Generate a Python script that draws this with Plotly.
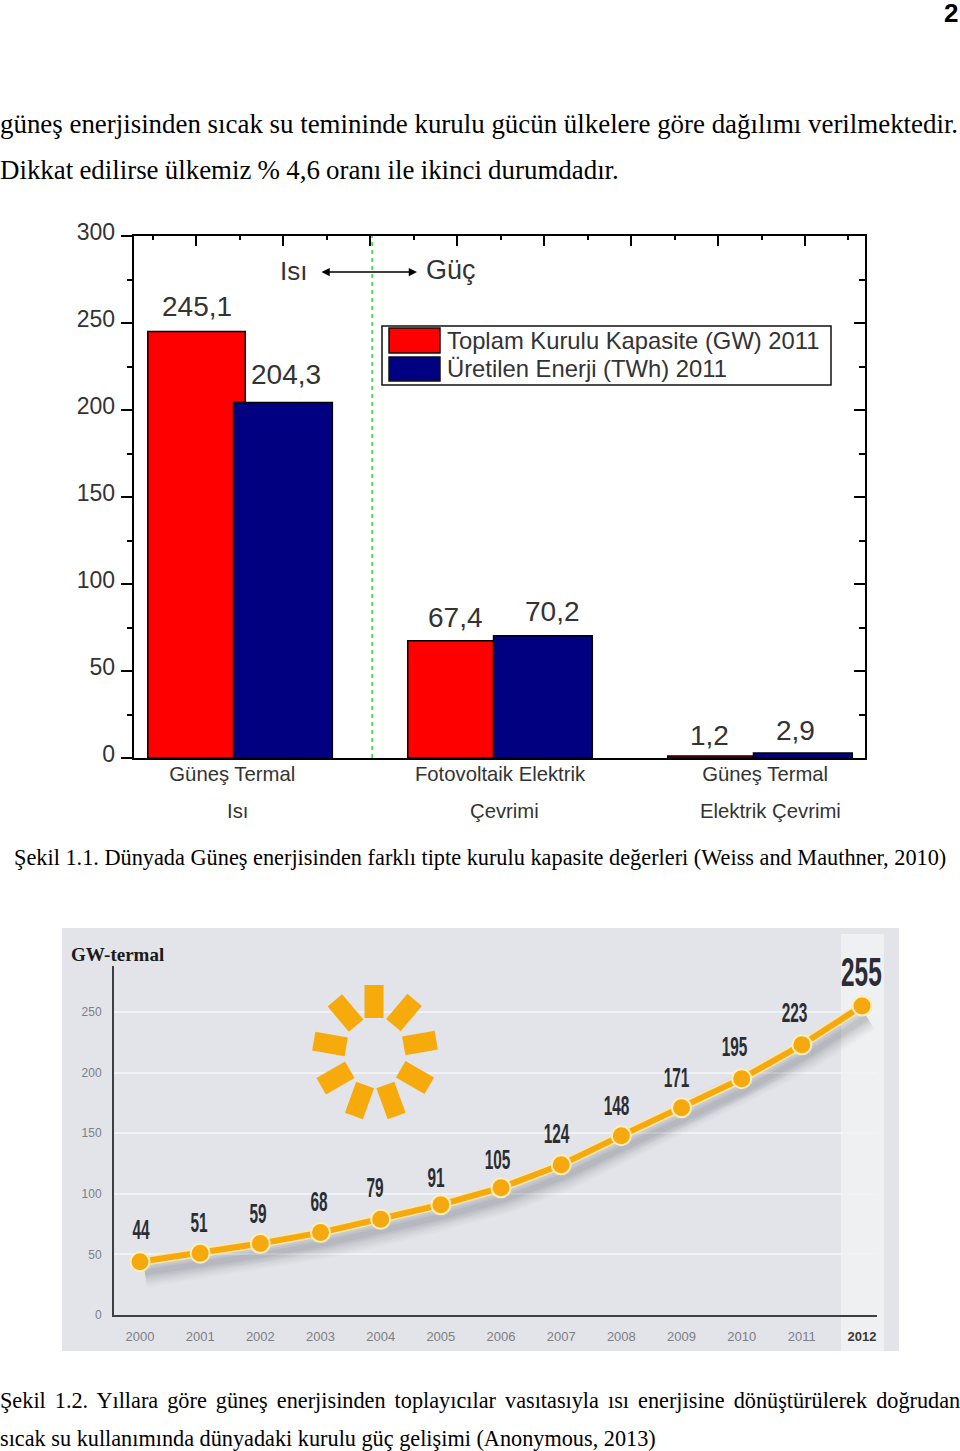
import numpy as np
import plotly.graph_objects as go

W, H = 960, 1451

# ---------- data ----------
GROUP_POS = [0, 1, 2]
GROUP_LINE1 = ["Güneş Termal", "Fotovoltaik Elektrik", "Güneş Termal"]
GROUP_LINE2 = ["Isı", "Çevrimi", "Elektrik Çevrimi"]
CAPACITY = [245.1, 67.4, 1.2]
ENERGY = [204.3, 70.2, 2.9]
CAPACITY_TEXT = ["245,1", "67,4", "1,2"]
ENERGY_TEXT = ["204,3", "70,2", "2,9"]
LEGEND_NAMES = ["Toplam Kurulu Kapasite (GW) 2011", "Üretilen Enerji (TWh) 2011"]

YEARS = list(range(2000, 2013))
GW_THERMAL = [44, 51, 59, 68, 79, 91, 105, 124, 148, 171, 195, 223, 255]

# ---------- label placement (pixels) ----------
CAP_SHIFT = [(-43, 25), (-45, 23), (-50, 20)]
ENE_SHIFT = [(46, 28), (52, 24), (36, 22)]
GW_SHIFT = [(1, 32), (-1, 30), (-2, 30), (-2, 31), (-6, 31), (-5, 27), (-4, 28),
            (-5, 31), (-5, 30), (-5, 30), (-7, 32), (-7, 32), (-1, 34)]

SERIF = "Liberation Serif"
SANS = "Liberation Sans"


def px(x):
    return x / W


def py(y):
    return 1 - y / H


def ptext(text, x, y, size, color="#000", family=SERIF, anchor="left"):
    return dict(text=text, x=px(x), y=py(y), xref="paper", yref="paper", showarrow=False,
                xshift=-2 if anchor == "left" else 0, align=anchor,
                xanchor=anchor, yanchor="middle", font=dict(family=family, size=size, color=color))


fig = go.Figure()
shapes, ann = [], []

# ---------- chart 1 ----------
fig.add_trace(go.Bar(x=GROUP_POS, y=CAPACITY, width=0.375, offset=-0.355, name=LEGEND_NAMES[0],
                     marker=dict(color="#ff0000", line=dict(color="#000", width=1.5))))
fig.add_trace(go.Bar(x=GROUP_POS, y=ENERGY, width=0.38, offset=-0.025, name=LEGEND_NAMES[1],
                     marker=dict(color="#000080", line=dict(color="#000", width=1.5))))
# empty traces keep the frame's tick-only axes alive
fig.add_trace(go.Scatter(x=[None], y=[None], xaxis="x3", yaxis="y3", showlegend=False))
fig.add_trace(go.Scatter(x=[None], y=[None], xaxis="x4", yaxis="y4", showlegend=False))

DARK = "#333333"
for g, t, (dx, dy), v in zip(GROUP_POS, CAPACITY_TEXT, CAP_SHIFT, CAPACITY):
    ann.append(dict(text=t, x=g, y=v, xref="x", yref="y", xshift=dx, yshift=dy, showarrow=False,
                    font=dict(family=SANS, size=28, color=DARK)))
for g, t, (dx, dy), v in zip(GROUP_POS, ENERGY_TEXT, ENE_SHIFT, ENERGY):
    ann.append(dict(text=t, x=g, y=v, xref="x", yref="y", xshift=dx, yshift=dy, showarrow=False,
                    font=dict(family=SANS, size=28, color=DARK)))

for t, x in zip(GROUP_LINE2, [237, 504, 770]):
    ann.append(ptext(t, x, 811, 20.3, DARK, SANS, "center"))

shapes.append(dict(type="line", xref="x", yref="y", x0=0.508, x1=0.508, y0=0, y1=300,
                   line=dict(color="#2fd24a", width=1.5, dash="4px,4px")))

ann.append(ptext("Isı", 293, 271, 26, DARK, SANS, "center"))
ann.append(ptext("Güç", 451, 270, 27, DARK, SANS, "center"))
ann.append(dict(x=px(417), y=py(272), xref="paper", yref="paper", ax=-97, ay=0, text="",
                showarrow=True, arrowhead=2, arrowside="end+start", arrowwidth=1.5,
                arrowsize=1.1, arrowcolor="#000", standoff=0, startstandoff=0))

# hand-drawn key, as in the source
shapes.append(dict(type="rect", xref="paper", yref="paper", x0=px(382), x1=px(831), y0=py(385), y1=py(326),
                   fillcolor="#fff", line=dict(color="#111", width=1.5), layer="above"))
shapes.append(dict(type="rect", xref="paper", yref="paper", x0=px(389), x1=px(440), y0=py(353), y1=py(328),
                   fillcolor="#ff0000", line=dict(color="#111", width=1.5), layer="above"))
shapes.append(dict(type="rect", xref="paper", yref="paper", x0=px(389), x1=px(440), y0=py(381), y1=py(357),
                   fillcolor="#000080", line=dict(color="#111", width=1.5), layer="above"))
ann.append(ptext(LEGEND_NAMES[0], 447, 341, 23.8, DARK, SANS))
ann.append(ptext(LEGEND_NAMES[1], 447, 368, 23.8, DARK, SANS))

# ---------- chart 2 ----------
PANEL = "#e2e4e9"
shapes.append(dict(type="rect", xref="paper", yref="paper", x0=px(62), x1=px(899), y0=py(1351), y1=py(928),
                   fillcolor=PANEL, line=dict(width=0), layer="below"))
shapes.append(dict(type="rect", xref="paper", yref="paper", x0=px(841), x1=px(884), y0=py(1351), y1=py(934),
                   fillcolor="#eff0f2", line=dict(width=0), layer="below"))

# sun: nine blocks, drawn over the gridlines
SUN_BLOCKS = [(374, 1001.5, 0), (404, 1012.5, 40), (420, 1043, 80), (415, 1077.5, 120), (391, 1100.5, 160),
              (359.5, 1100.5, 200), (335.5, 1078, 240), (330, 1044, 280), (345.5, 1013, 320)]
for cx, cy, deg in SUN_BLOCKS:
    a = np.radians(deg)
    ux, uy = np.sin(a), -np.cos(a)
    shapes.append(dict(type="line", xref="paper", yref="paper", layer="above",
                       x0=px(cx - 16.5 * ux), y0=py(cy - 16.5 * uy),
                       x1=px(cx + 16.5 * ux), y1=py(cy + 16.5 * uy),
                       line=dict(color="#f7aa0c", width=19)))

# soft shadow under the line
for w, alpha in [(30, 0.02), (26, 0.025), (22, 0.03), (18, 0.035), (14, 0.04), (10, 0.05), (6, 0.06)]:
    fig.add_trace(go.Scatter(x=[v + 0.08 for v in YEARS], y=[v - 9 for v in GW_THERMAL], mode="lines",
                             xaxis="x2", yaxis="y2", hoverinfo="skip", showlegend=False,
                             line=dict(color=f"rgba(50,50,70,{alpha})", width=w)))
fig.add_trace(go.Scatter(x=YEARS, y=GW_THERMAL, mode="lines", xaxis="x2", yaxis="y2", showlegend=False,
                         hoverinfo="skip", line=dict(color="#fbe6ab", width=9)))
fig.add_trace(go.Scatter(x=YEARS, y=GW_THERMAL, mode="lines+markers", xaxis="x2", yaxis="y2",
                         showlegend=False, line=dict(color="#f5a90f", width=6),
                         marker=dict(size=19, color="#f5a90f", line=dict(color="#fdeebd", width=2))))

for yr, v, (dx, dy) in zip(YEARS, GW_THERMAL, GW_SHIFT):
    big = yr == 2012
    ann.append(dict(text=f"<b>{v}</b>", x=yr, y=v, xref="x2", yref="y2", xshift=dx, yshift=dy,
                    showarrow=False, font=dict(family=SANS, size=40 if big else 27, color="#2b2d33")))

ann.append(ptext("<b>GW-termal</b>", 71, 954, 19, "#1a1a1a", SERIF))

year_text = [str(y) for y in YEARS[:-1]] + ["<span style='color:#3a3a3a'><b>2012</b></span>"]

# ---------- page text ----------
ann.append(ptext("<b>2</b>", 960, 13, 26, "#000", SANS, "right"))
ann.append(ptext("güneş enerjisinden sıcak su temininde kurulu gücün ülkelere göre dağılımı verilmektedir.", 0, 124, 26.9))
ann.append(ptext("Dikkat edilirse ülkemiz % 4,6 oranı ile ikinci durumdadır.", 0, 170, 26.9))
ann.append(ptext("Şekil 1.1. Dünyada Güneş enerjisinden farklı tipte kurulu kapasite değerleri (Weiss and Mauthner, 2010)", 14, 857, 22.3))
ann.append(ptext("Şekil 1.2. Yıllara göre güneş enerjisinden toplayıcılar vasıtasıyla ısı enerjisine dönüştürülerek doğrudan", 0, 1400, 22.25))
ann.append(ptext("sıcak su kullanımında dünyadaki kurulu güç gelişimi (Anonymous, 2013)", 0, 1438, 22.25))

X1 = [px(134), px(865)]
Y1 = [py(758), py(236)]
X2 = [px(114), px(877)]
Y2 = [py(1315), py(966)]
Y_RANGE = [0, 300]

fig.update_layout(
    width=W, height=H, margin=dict(l=0, r=0, t=0, b=0, autoexpand=False), autosize=False,
    paper_bgcolor="#fff", plot_bgcolor="rgba(0,0,0,0)", barmode="overlay", showlegend=False,
    shapes=shapes, annotations=ann,
    xaxis=dict(domain=X1, range=[-0.408, 2.404], anchor="y", tickmode="array",
               tickvals=[-0.03, 1.0, 2.02], ticktext=GROUP_LINE1, ticks="", showgrid=False, zeroline=False,
               showline=True, linecolor="#000", linewidth=2, mirror=True, ticklabelstandoff=-3,
               tickfont=dict(family=SANS, size=20.3, color=DARK)),
    yaxis=dict(domain=Y1, range=Y_RANGE, anchor="x", tickmode="linear", tick0=0, dtick=50,
               ticks="outside", ticklen=11, tickwidth=1.5, tickcolor="#000", showticklabels=False,
               showgrid=False, zeroline=False, showline=True, linecolor="#000", linewidth=2, mirror=True,
               minor=dict(ticks="outside", ticklen=5, tickwidth=1.5, tickcolor="#000", dtick=25, tick0=0, showgrid=False)),
    xaxis3=dict(domain=X1, range=[-0.408, 2.404], overlaying="x", side="top", anchor="y3", tickmode="linear",
                tick0=-0.169, dtick=0.3346, ticks="inside", ticklen=10, tickwidth=1.5, tickcolor="#000",
                showticklabels=False, showgrid=False, zeroline=False,
                minor=dict(ticks="inside", ticklen=4, tickwidth=1.5, tickcolor="#000", dtick=0.1673, tick0=-0.169, showgrid=False)),
    yaxis3=dict(domain=Y1, range=Y_RANGE, overlaying="y", side="right", anchor="x3", tickmode="linear", tick0=0, dtick=50,
                ticks="inside", ticklen=11, tickwidth=1.5, tickcolor="#000", showticklabels=False,
                showgrid=False, zeroline=False,
                minor=dict(ticks="inside", ticklen=6, tickwidth=1.5, tickcolor="#000", dtick=25, tick0=0, showgrid=False)),
    # label-only axis: the source's tick labels sit slightly above their ticks
    xaxis4=dict(domain=X1, range=[0, 1], anchor="y4", visible=False),
    yaxis4=dict(domain=[py(758), py(226)], range=[-2.3, 303.4], side="left", anchor="x4",
                tickmode="array", tickvals=[0, 50, 100, 150, 200, 250, 300], ticks="", showgrid=False, zeroline=False,
                showline=False, ticklabelstandoff=18, tickfont=dict(family=SANS, size=23, color=DARK)),
    xaxis2=dict(domain=X2, range=[1999.568, 2012.249], anchor="y2", tickmode="array", tickvals=YEARS, ticktext=year_text,
                ticks="", showgrid=False, zeroline=False, showline=True, linecolor="#3d3f44", linewidth=2,
                ticklabelstandoff=8, tickfont=dict(family=SANS, size=13, color="#7d7f84")),
    yaxis2=dict(domain=Y2, range=[0, 288], anchor="x2", tickmode="array", tickvals=[0, 50, 100, 150, 200, 250],
                ticks="", showgrid=True, gridcolor="#f1f2f5", gridwidth=2, zeroline=False, showline=True,
                linecolor="#3d3f44", linewidth=2, ticklabelstandoff=8,
                tickfont=dict(family=SANS, size=12, color="#7d7f84")),
)

# the source's value labels are a condensed face and one caption line is justified
POST = """
document.body.style.margin='0';
document.documentElement.style.overflow='hidden';
function fit(){
  document.querySelectorAll('.annotation-text').forEach(function(t){
    var s=t.textContent.trim();
    if(/^\\d+$/.test(s) && !t.getAttribute('textLength') && s!=='2'){
      var k = s==='255' ? 0.61 : 0.57;
      var len=t.getComputedTextLength();
      t.setAttribute('lengthAdjust','spacingAndGlyphs');
      t.setAttribute('textLength',(len*k).toFixed(1));
    }
    if(s.indexOf('Şekil 1.2.')===0){ t.style.wordSpacing='3.5px'; }
    if(s.indexOf('Dikkat')===0){ t.style.wordSpacing='-0.5px'; }
  });
}
fit(); setTimeout(fit,50); setTimeout(fit,300);
"""
fig.write_html("out.html", post_script=POST, config={"displayModeBar": False})
